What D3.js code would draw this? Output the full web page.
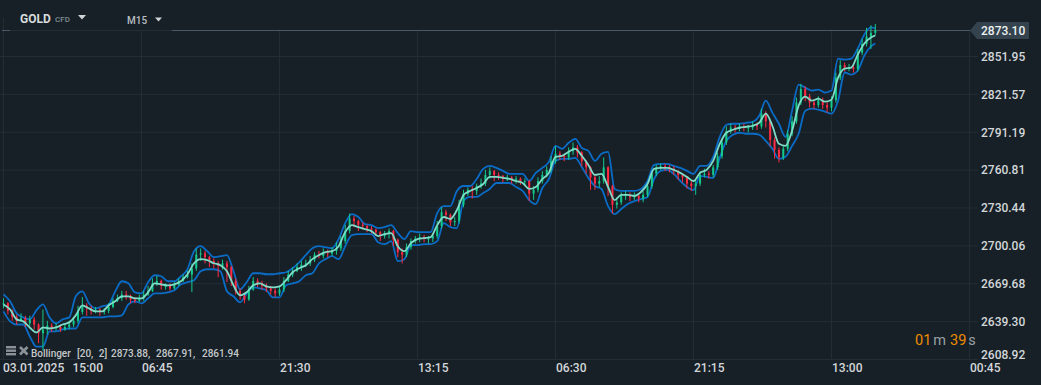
<!DOCTYPE html>
<html>
<head>
<meta charset="utf-8">
<script src="https://cdn.jsdelivr.net/npm/d3@7"></script>
<style>
  html, body { margin: 0; padding: 0; background: #172027; overflow: hidden; }
  svg { display: block; font-family: Roboto, sans-serif; }
</style>
</head>
<body>
<script>
// GLOBAL VARIABLES
const WIDTH = 1041;
const HEIGHT = 385;

// DATA
const priceTicks = [2851.95, 2821.57, 2791.19, 2760.81, 2730.44, 2700.06, 2669.68, 2639.30, 2608.92];
const lastPrice = 2873.10;
const timeTicks = [0, 63, 126, 189, 252, 315, 378, 441];
const timeLabels = ["15:00", "06:45", "21:30", "13:15", "06:30", "21:15", "13:00", "00:45"];
const startDate = "03.01.2025";
const legendValues = ["[20, 2]", "2873.88,", "2867.91,", "2861.94"];

const upperBand = [2661.2,2655.6,2645.9,2642.7,2641.1,2648.3,2653.1,2642.7,2637.9,2641.1,2642.7,2659.6,2663.6,2654,2649.9,2651.5,2653.1,2663.6,2671.7,2670,
  2662.8,2662,2670.9,2676.5,2675.7,2671.7,2671.7,2675.7,2681.3,2695.8,2699.8,2695.8,2691,2691.8,2692.6,2679.7,2665.2,2670.9,2678.1,2678.1,
  2677.3,2677.3,2678.1,2678.9,2682.1,2686.9,2692.6,2698.2,2699.8,2699,2698.2,2705.5,2718.3,2725.6,2723.2,2717.5,2716.7,2714.3,2715.1,2716.7,
  2710.3,2705.5,2711.9,2711.1,2711.1,2711.1,2726.4,2732,2732,2744.1,2748.1,2748.1,2753.7,2761.8,2764.2,2762.6,2760.2,2757.8,2757.8,2757.8,
  2752.1,2758.6,2762.6,2767.4,2780.3,2777.9,2782.7,2785.9,2778.7,2776.3,2768.2,2773.9,2775.5,2745.7,2744.1,2744.1,2744.1,2745.7,2752.1,2765,
  2765.8,2765.8,2764.2,2762.6,2760.2,2757.8,2764.2,2764.2,2771.5,2787.5,2797.2,2798,2798,2798.8,2799.6,2804.4,2816.5,2806.9,2798,2787.5,
  2808.5,2829.4,2827,2824.6,2825.4,2823,2824.6,2850.3,2849.5,2850.3,2858.4,2869.6,2875.3,2874.5];
const middleBand = [2653.1,2649.1,2641.1,2639.5,2634.6,2630.6,2634.6,2633.8,2634.6,2637,2638.7,2644.3,2652.3,2649.9,2647.5,2647.5,2652.3,2655.6,2659.6,2659.6,
  2658,2658,2662.8,2670,2669.2,2668.4,2669.2,2671.7,2677.3,2686.1,2689.4,2688.6,2686.1,2684.5,2679.7,2668.4,2660.4,2662.8,2668.4,2670,
  2667.6,2666.8,2667.6,2672.5,2678.9,2682.1,2684.5,2689.4,2692.6,2695,2695.8,2699.8,2711.1,2716.7,2715.1,2713.5,2711.9,2707.9,2709.5,2710.3,
  2699.8,2695.8,2702.2,2705.5,2706.3,2707.1,2716.7,2723.2,2721.6,2728.8,2740.9,2744.1,2746.5,2749.7,2755.4,2755.4,2754.6,2753.7,2752.1,2750.5,
  2745.7,2747.3,2753.7,2758.6,2771.5,2772.3,2775.5,2777.9,2772.3,2765,2757,2757.8,2747.3,2736.8,2740.9,2740.9,2740.1,2743.3,2749.7,2761.8,
  2762.6,2762.6,2761,2758.6,2755.4,2752.1,2758.6,2761,2768.2,2781.9,2790.8,2793.2,2794.8,2795.6,2796.4,2798.8,2806.1,2796.4,2781.9,2780.3,
  2792.4,2812.5,2819.7,2816.5,2818.1,2815.7,2817.3,2835,2842.3,2843.1,2853.5,2862.4,2867.2,2868.8];
const lowerBand = [2647.5,2639.5,2637,2637,2627.4,2619.3,2619.3,2631.4,2631.4,2633,2633.8,2633.8,2642.7,2642.7,2642.7,2642.7,2643.5,2643.5,2644.3,2653.1,
  2655.6,2654,2658,2662,2662,2662.8,2664.4,2669.2,2670.9,2672.5,2679.7,2681.3,2681.3,2679.7,2663.6,2659.6,2654.8,2662,2666.8,2666,
  2664.4,2658.8,2658.8,2668.4,2670,2671.7,2676.5,2678.1,2686.1,2689.4,2691.8,2689.4,2699.8,2708.7,2709.5,2709.5,2709.5,2703,2701.4,2703.8,
  2687.8,2689.4,2700.6,2700.6,2701.4,2701.4,2703.8,2718.3,2715.1,2714.3,2736,2739.3,2739.3,2742.5,2745.7,2750.5,2750.5,2750.5,2747.3,2744.1,
  2736.8,2733.6,2746.5,2753.7,2768.2,2769.8,2769.8,2770.6,2763.4,2754.6,2748.1,2745.7,2732,2725.6,2729.6,2733.6,2736,2737.6,2739.3,2753.7,
  2760.2,2761,2757.8,2752.1,2747.3,2744.9,2756.2,2755.4,2754.6,2770.6,2784.3,2789.2,2790.8,2790,2790,2789.2,2784.3,2777.9,2769.8,2771.5,
  2780.3,2790,2808.5,2810.1,2809.3,2807.7,2806.1,2816.5,2839.1,2837.4,2840.7,2852.7,2860,2862.4];

const closes = [2654,2648,2643,2640,2642,2638,2641,2637,2630,2633,2636,2634,2635,2633,2635,2637,2640,2647,2652,2650,
  2648,2649,2647,2648,2651,2656,2658,2661,2660,2657,2656,2658,2661,2664,2670,2672,2668,2668,2666,2669,
  2672,2675,2677,2682,2693,2694,2691,2688,2686,2684,2686,2683,2672,2664,2660,2657,2665,2672,2670,2668,
  2666,2664,2662,2665,2672,2677,2680,2683,2685,2686,2689,2693,2692,2695,2694,2696,2698,2704,2712,2722,
  2720,2717,2716,2714,2713,2711,2708,2710,2712,2705,2695,2693,2699,2704,2706,2707,2706,2706,2708,2716,
  2727,2725,2719,2720,2733,2742,2745,2744,2748,2750,2757,2760,2757,2756,2754,2755,2753,2754,2752,2752,
  2742,2745,2752,2757,2761,2768,2774,2772,2771,2776,2779,2775,2768,2763,2755,2750,2752,2763,2748,2733,
  2735,2740,2741,2739,2740,2738,2741,2748,2758,2763,2764,2763,2762,2760,2757,2755,2750,2748,2750,2757,
  2758,2757,2763,2772,2783,2792,2795,2794,2796,2795,2795,2797,2796,2806,2800,2785,2777,2771,2778,2790,
  2800,2815,2826,2820,2815,2813,2817,2813,2811,2817,2835,2845,2843,2843,2842,2855,2862,2868,2871,2873.1];
const highs = [2658,2655,2649,2645,2646,2644,2644,2643,2638,2649,2640,2638,2638,2637,2638,2640,2643,2652,2659,2654,
  2652,2651,2650,2650,2654,2658,2661,2664,2664,2661,2659,2661,2664,2668,2674,2676,2673,2670,2670,2671,
  2674,2677,2680,2686,2698,2698,2696,2692,2690,2688,2689,2688,2684,2674,2666,2662,2668,2675,2674,2672,
  2670,2668,2666,2668,2675,2680,2683,2686,2688,2689,2692,2695,2696,2698,2697,2699,2703,2708,2717,2726,
  2724,2721,2719,2717,2716,2714,2712,2712,2714,2713,2706,2698,2702,2706,2708,2710,2709,2708,2710,2720,
  2731,2729,2726,2723,2737,2745,2747,2748,2750,2754,2761,2763,2761,2759,2757,2757,2756,2756,2755,2754,
  2753,2748,2755,2760,2764,2772,2780,2776,2774,2779,2783,2781,2776,2769,2764,2757,2756,2771,2764,2749,
  2739,2743,2744,2743,2743,2742,2744,2751,2760,2765,2766,2766,2765,2764,2761,2758,2756,2752,2753,2760,
  2762,2760,2765,2775,2786,2796,2798,2797,2798,2798,2797,2800,2799,2810,2808,2801,2787,2779,2781,2793,
  2804,2819,2830,2828,2822,2818,2820,2819,2816,2820,2839,2849,2847,2846,2845,2858,2866,2875,2877,2878];
const lows = [2650,2645,2640,2637,2639,2635,2636,2633,2622,2616,2629,2631,2632,2631,2632,2633,2635,2638,2645,2644,
  2645,2646,2644,2645,2646,2650,2655,2656,2657,2654,2654,2655,2656,2660,2663,2668,2665,2665,2664,2665,
  2668,2671,2674,2663,2680,2688,2686,2683,2682,2675,2681,2671,2668,2661,2657,2654,2656,2664,2667,2665,
  2663,2661,2659,2660,2663,2671,2675,2679,2680,2683,2684,2687,2690,2690,2691,2692,2693,2696,2702,2710,
  2715,2712,2713,2711,2710,2708,2704,2706,2706,2700,2691,2686,2691,2697,2702,2703,2703,2702,2703,2706,
  2714,2720,2716,2716,2718,2731,2740,2738,2741,2746,2748,2754,2752,2753,2751,2752,2750,2750,2749,2748,
  2736,2737,2743,2750,2755,2759,2766,2769,2768,2769,2773,2771,2764,2758,2745,2745,2747,2750,2740,2726,
  2730,2733,2737,2736,2737,2735,2735,2739,2746,2756,2761,2760,2759,2757,2753,2751,2746,2744,2741,2748,
  2755,2754,2755,2761,2770,2781,2790,2791,2792,2792,2791,2793,2793,2794,2795,2780,2770,2767,2769,2776,
  2788,2798,2813,2816,2811,2810,2811,2810,2807,2808,2815,2833,2840,2840,2839,2840,2853,2860,2858,2869];

// bar positions of the two kinds of series
const bandBars = [...d3.range(0, 399, 3), 398];
const candleBars = d3.range(0, 400, 2);

const svg = d3.select("body").append("svg").attr("width", WIDTH).attr("height", HEIGHT);

// SCALES
const x = d3.scaleLinear().domain([0, 441]).range([3.5, 969.5]);
const y = d3.scaleLinear().domain([2608.92, 2851.95]).range([359.5, 56.5]);

// AXES
const yAxis = d3.axisRight(y).tickValues(priceTicks).tickFormat(d3.format(".2f")).tickSize(0).tickPadding(0);
const xAxis = d3.axisBottom(x).tickValues(timeTicks).tickFormat((d, i) => timeLabels[i]).tickSize(0).tickPadding(0);

// grid
svg.append("g").selectAll("line").data(priceTicks).enter().append("line")
  .attr("x1", 0).attr("x2", 978)
  .attr("y1", d => y(d)).attr("y2", d => y(d))
  .attr("stroke", "#222d35");
svg.append("g").selectAll("line").data(timeTicks).enter().append("line")
  .attr("x1", d => x(d)).attr("x2", d => x(d))
  .attr("y1", d => d === 0 ? 18 : 31).attr("y2", 359.5)
  .attr("stroke", "#222d35");

// last price line
const lastY = Math.round(y(lastPrice)) + 0.5;
svg.append("line").attr("x1", 172).attr("x2", 971).attr("y1", lastY).attr("y2", lastY).attr("stroke", "#4a5965");
svg.append("line").attr("x1", 2).attr("x2", 10).attr("y1", lastY).attr("y2", lastY).attr("stroke", "#4a5965");
svg.append("line").attr("x1", 10).attr("x2", 172).attr("y1", lastY).attr("y2", lastY).attr("stroke", "#222d35");

// BOLLINGER OUTER LINES
const bandLine = d3.line().x((d, i) => x(bandBars[i])).y(d => y(d)).curve(d3.curveMonotoneX);
svg.append("path").attr("d", bandLine(upperBand)).attr("fill", "none").attr("stroke", "#0a6cc6").attr("stroke-width", 1.8);
svg.append("path").attr("d", bandLine(lowerBand)).attr("fill", "none").attr("stroke", "#0a6cc6").attr("stroke-width", 1.8);

// CANDLES
const candleColor = i => closes[i] >= (i ? closes[i - 1] : closes[i]) ? "#14c98c" : "#ff2b45";
const candleG = svg.append("g");
candleG.selectAll("line").data(candleBars).enter().append("line")
  .attr("x1", d => x(d)).attr("x2", d => x(d))
  .attr("y1", (d, i) => y(highs[i])).attr("y2", (d, i) => y(lows[i]))
  .attr("stroke", (d, i) => candleColor(i));
candleG.selectAll("rect").data(candleBars).enter().append("rect")
  .attr("x", d => x(d) - 1)
  .attr("width", 2)
  .attr("y", (d, i) => y(Math.max(closes[i], i ? closes[i - 1] : closes[i])))
  .attr("height", (d, i) => Math.max(1, Math.abs(y(closes[i]) - y(i ? closes[i - 1] : closes[i]))))
  .attr("fill", (d, i) => candleColor(i));

// middle line goes on top of the candles
svg.append("path").attr("d", bandLine(middleBand)).attr("fill", "none").attr("stroke", "#7fdcc9").attr("stroke-width", 1.8);

// AXIS DRAW
const yAxisG = svg.append("g").attr("transform", "translate(981,0)").call(yAxis);
yAxisG.select(".domain").remove();
yAxisG.selectAll("text").attr("font-family", "Roboto").attr("font-size", 12).attr("font-weight", 500).attr("fill", "#d3d7d9");
yAxisG.selectAll(".tick").filter(d => d === 2608.92).select("text").attr("y", -5);

const xAxisG = svg.append("g").attr("transform", "translate(0,363)").call(xAxis);
xAxisG.select(".domain").remove();
xAxisG.selectAll("text").attr("font-family", "Roboto").attr("font-size", 12).attr("font-weight", 500)
  .attr("fill", "#d3d7d9").attr("text-anchor", "start").attr("dy", "0.71em");
// first tick has the date in front of it
xAxisG.selectAll(".tick").filter(d => d === 0).select("text").attr("x", 68.5);
svg.append("text").attr("x", 3).attr("y", 372).text(startDate)
  .attr("font-size", 12).attr("font-weight", 500).attr("fill", "#d3d7d9");

// LAST PRICE LABEL
svg.append("path").attr("d", `M970,${lastY} L977,${lastY - 8.5} H1029 V${lastY + 8.5} H977 Z`).attr("fill", "#34434e");
svg.append("text").attr("x", 981).attr("y", lastY + 4.5).text(d3.format(".2f")(lastPrice))
  .attr("font-size", 12).attr("font-weight", 500).attr("fill", "#eef1f2");

// HEADER
svg.append("text").attr("x", 20).attr("y", 23).text("GOLD").attr("font-size", 12).attr("font-weight", 700).attr("fill", "#d8dcdc");
svg.append("text").attr("x", 55).attr("y", 22).text("CFD").attr("font-size", 8).attr("font-weight", 500).attr("fill", "#7f8d94");
svg.append("path").attr("d", "M78,15 H86 L82,19.5 Z").attr("fill", "#d0d4d6");
svg.append("text").attr("x", 127).attr("y", 24).text("M15").attr("font-size", 10).attr("font-weight", 500).attr("fill", "#b9bec0");
svg.append("path").attr("d", "M155,17.5 H162 L158.5,21.5 Z").attr("fill", "#d0d4d6");

// LEGEND
const legendG = svg.append("g").attr("fill", "#8b9398");
[346, 349.5, 353].forEach(t => legendG.append("rect").attr("x", 6).attr("y", t).attr("width", 10).attr("height", 2.4));
legendG.append("path").attr("d", "M20,347 L27.5,354.5 M27.5,347 L20,354.5").attr("stroke", "#8b9398").attr("stroke-width", 2.6);
svg.append("text").attr("x", 31).attr("y", 357).text("Bollinger").attr("font-size", 10).attr("font-weight", 500).attr("fill", "#c4c8ca");
const legendX = [77, 111, 156, 202];
svg.append("g").selectAll("text").data(legendValues).enter().append("text")
  .attr("x", (d, i) => legendX[i]).attr("y", 357).text(d => d)
  .attr("font-size", 10).attr("font-weight", 500).attr("word-spacing", 3).attr("fill", "#c4c8ca");

// TIMER
const timer = svg.append("text").attr("x", 915).attr("y", 345).attr("font-size", 14.5);
timer.append("tspan").text("01").attr("fill", "#ef8c00");
timer.append("tspan").text("m").attr("fill", "#9aa0a4").attr("dx", 2);
timer.append("tspan").text("39").attr("fill", "#ef8c00").attr("dx", 4);
timer.append("tspan").text("s").attr("fill", "#9aa0a4").attr("dx", 2);
</script>
</body>
</html>
